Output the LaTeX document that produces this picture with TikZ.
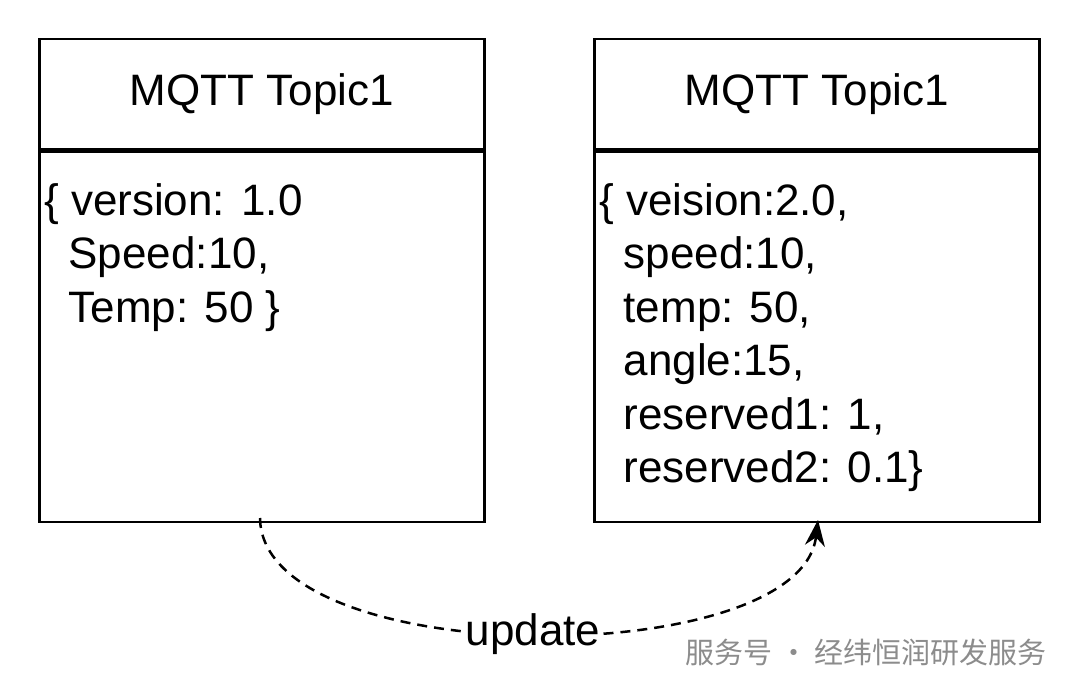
\documentclass[tikz,border=0pt]{standalone}
\usepackage{fontspec}
\setmainfont{Liberation Sans}
\newfontfamily\cjk{Noto Sans CJK SC}
\usetikzlibrary{arrows.meta,positioning}
\begin{document}
\begin{tikzpicture}[x=1pt,y=-1pt,
  box/.style={draw,line width=2.5pt,minimum width=445pt,inner sep=0pt},
  body/.style={font=\fontsize{44}{53.5}\selectfont,align=left,anchor=north west,inner sep=0pt}]
\useasboundingbox (0,0) rectangle (1080,695);
% left topic
\node[box,minimum height=110pt,anchor=north west,font=\fontsize{44}{50}\selectfont] (headA) at (38,38) {MQTT Topic1};
\node[box,minimum height=370pt,below=0pt of headA] (boxA) {};
\node[body] (textA) at (44,183) {\{ version: 1.0\\\ \ Speed:10,\\\ \ Temp: 50 \}};
% right topic
\node[box,minimum height=110pt,anchor=north west,font=\fontsize{44}{50}\selectfont] (headB) at (593,38) {MQTT Topic1};
\node[box,minimum height=370pt,below=0pt of headB] (boxB) {};
\node[body] (textB) at (599,183) {\{ veision:2.0,\\\ \ speed:10,\\\ \ temp: 50,\\\ \ angle:15,\\\ \ reserved1: 1,\\\ \ reserved2: 0.1\}};
% update link
\coordinate (src) at (260,518);
\coordinate (dst) at (818,520);
\draw[line width=2.5pt,dash pattern={on 10pt off 7pt},-{Stealth[length=26pt,width=20pt]}]
  (src) .. controls (262,672) and (800,672) .. (dst)
  node[pos=0.5,fill=white,inner sep=2pt,font=\fontsize{44}{50}\selectfont] (lbl) {update};
% watermark
\node[anchor=west,text=black!45,font=\cjk\fontsize{29}{34}\selectfont] (mark) at (682,652) {服务号 · 经纬恒润研发服务};
\end{tikzpicture}
\end{document}
